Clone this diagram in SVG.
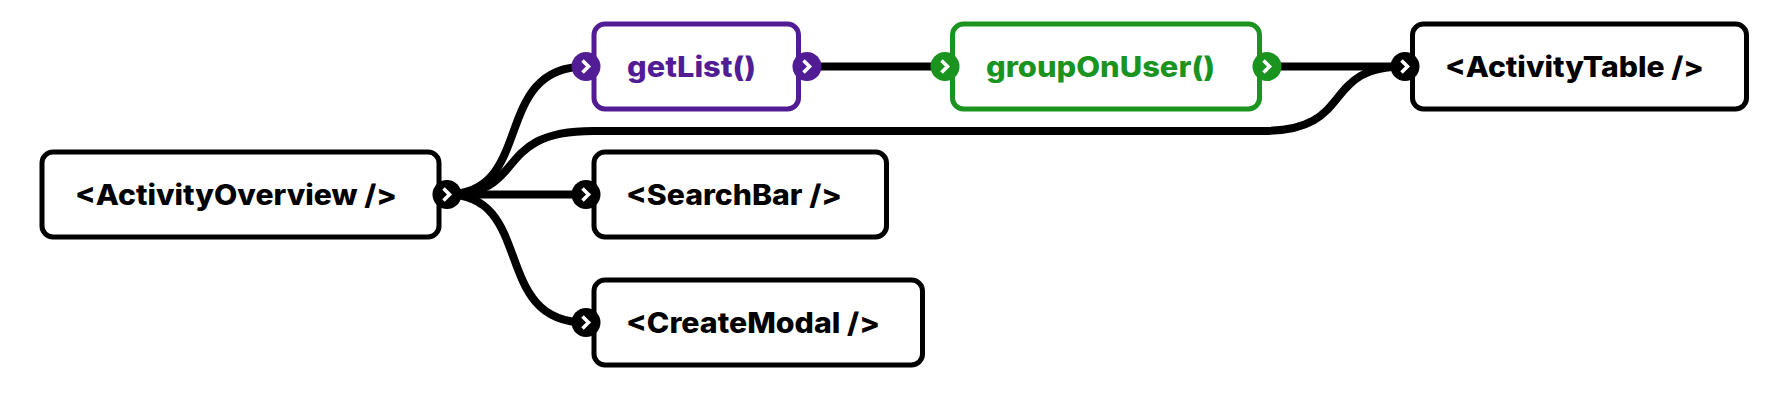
<svg xmlns="http://www.w3.org/2000/svg" width="1792" height="404" viewBox="0 0 1792 404">
<style>
.box{fill:#fff;stroke:#000;stroke-width:5}
.p .box{stroke:#521d94}
.g .box{stroke:#1b931f}
.port{fill:#000}
.p .port{fill:#521d94}
.g .port{fill:#1b931f}
.chev{fill:none;stroke:#fff;stroke-width:3.6}
text{font-family:"Inter","Liberation Sans",sans-serif;font-weight:800;font-size:28px;fill:#000}
.p text{fill:#521d94}
.g text{fill:#1b931f}
.wire{fill:none;stroke:#000;stroke-width:8}
</style>
<defs>
<g id="chevron"><path class="chev" d="M-3.5,-6 L2.5,0 L-3.5,6"/></g>
</defs>
<rect width="1792" height="404" fill="#fff"/>
<g id="connectors">
<path class="wire" d="M447,194.5 C536,194.5 490,66.5 586,66.5"/>
<path class="wire" d="M447,194.5 C530,194.5 490,131 593,131 L1262,131 C1358,131 1318,66.5 1405,66.5"/>
<path class="wire" d="M447,194.5 L586,194.5"/>
<path class="wire" d="M447,194.5 C536,194.5 490,322.5 586,322.5"/>
<path class="wire" d="M807,66.5 L945,66.5"/>
<path class="wire" d="M1267,66.5 L1405,66.5"/>
</g>
<g id="activity-overview">
<rect class="box" x="42" y="152" width="397" height="85" rx="11"/>
<text x="75" y="205" textLength="322" lengthAdjust="spacingAndGlyphs">&lt;ActivityOverview /&gt;</text>
<circle class="port" cx="447" cy="194.5" r="14.5"/><use href="#chevron" x="447" y="194.5"/>
</g>
<g id="get-list" class="p">
<rect class="box" x="594" y="24" width="204.5" height="85" rx="11"/>
<text x="627" y="77" textLength="129" lengthAdjust="spacingAndGlyphs">getList()</text>
<circle class="port" cx="586" cy="66.5" r="14.5"/><use href="#chevron" x="586" y="66.5"/>
<circle class="port" cx="807" cy="66.5" r="14.5"/><use href="#chevron" x="807" y="66.5"/>
</g>
<g id="group-on-user" class="g">
<rect class="box" x="952.5" y="24" width="307" height="85" rx="11"/>
<text x="986" y="77" textLength="229" lengthAdjust="spacingAndGlyphs">groupOnUser()</text>
<circle class="port" cx="945" cy="66.5" r="14.5"/><use href="#chevron" x="945" y="66.5"/>
<circle class="port" cx="1267" cy="66.5" r="14.5"/><use href="#chevron" x="1267" y="66.5"/>
</g>
<g id="activity-table">
<rect class="box" x="1412.5" y="24" width="334" height="85" rx="11"/>
<text x="1445" y="77" textLength="259" lengthAdjust="spacingAndGlyphs">&lt;ActivityTable /&gt;</text>
<circle class="port" cx="1405" cy="66.5" r="14.5"/><use href="#chevron" x="1405" y="66.5"/>
</g>
<g id="search-bar">
<rect class="box" x="594" y="152" width="292.5" height="85" rx="11"/>
<text x="626" y="205" textLength="216" lengthAdjust="spacingAndGlyphs">&lt;SearchBar /&gt;</text>
<circle class="port" cx="586" cy="194.5" r="14.5"/><use href="#chevron" x="586" y="194.5"/>
</g>
<g id="create-modal">
<rect class="box" x="594" y="280" width="328.5" height="85" rx="11"/>
<text x="626" y="333" textLength="254" lengthAdjust="spacingAndGlyphs">&lt;CreateModal /&gt;</text>
<circle class="port" cx="586" cy="322.5" r="14.5"/><use href="#chevron" x="586" y="322.5"/>
</g>
</svg>
